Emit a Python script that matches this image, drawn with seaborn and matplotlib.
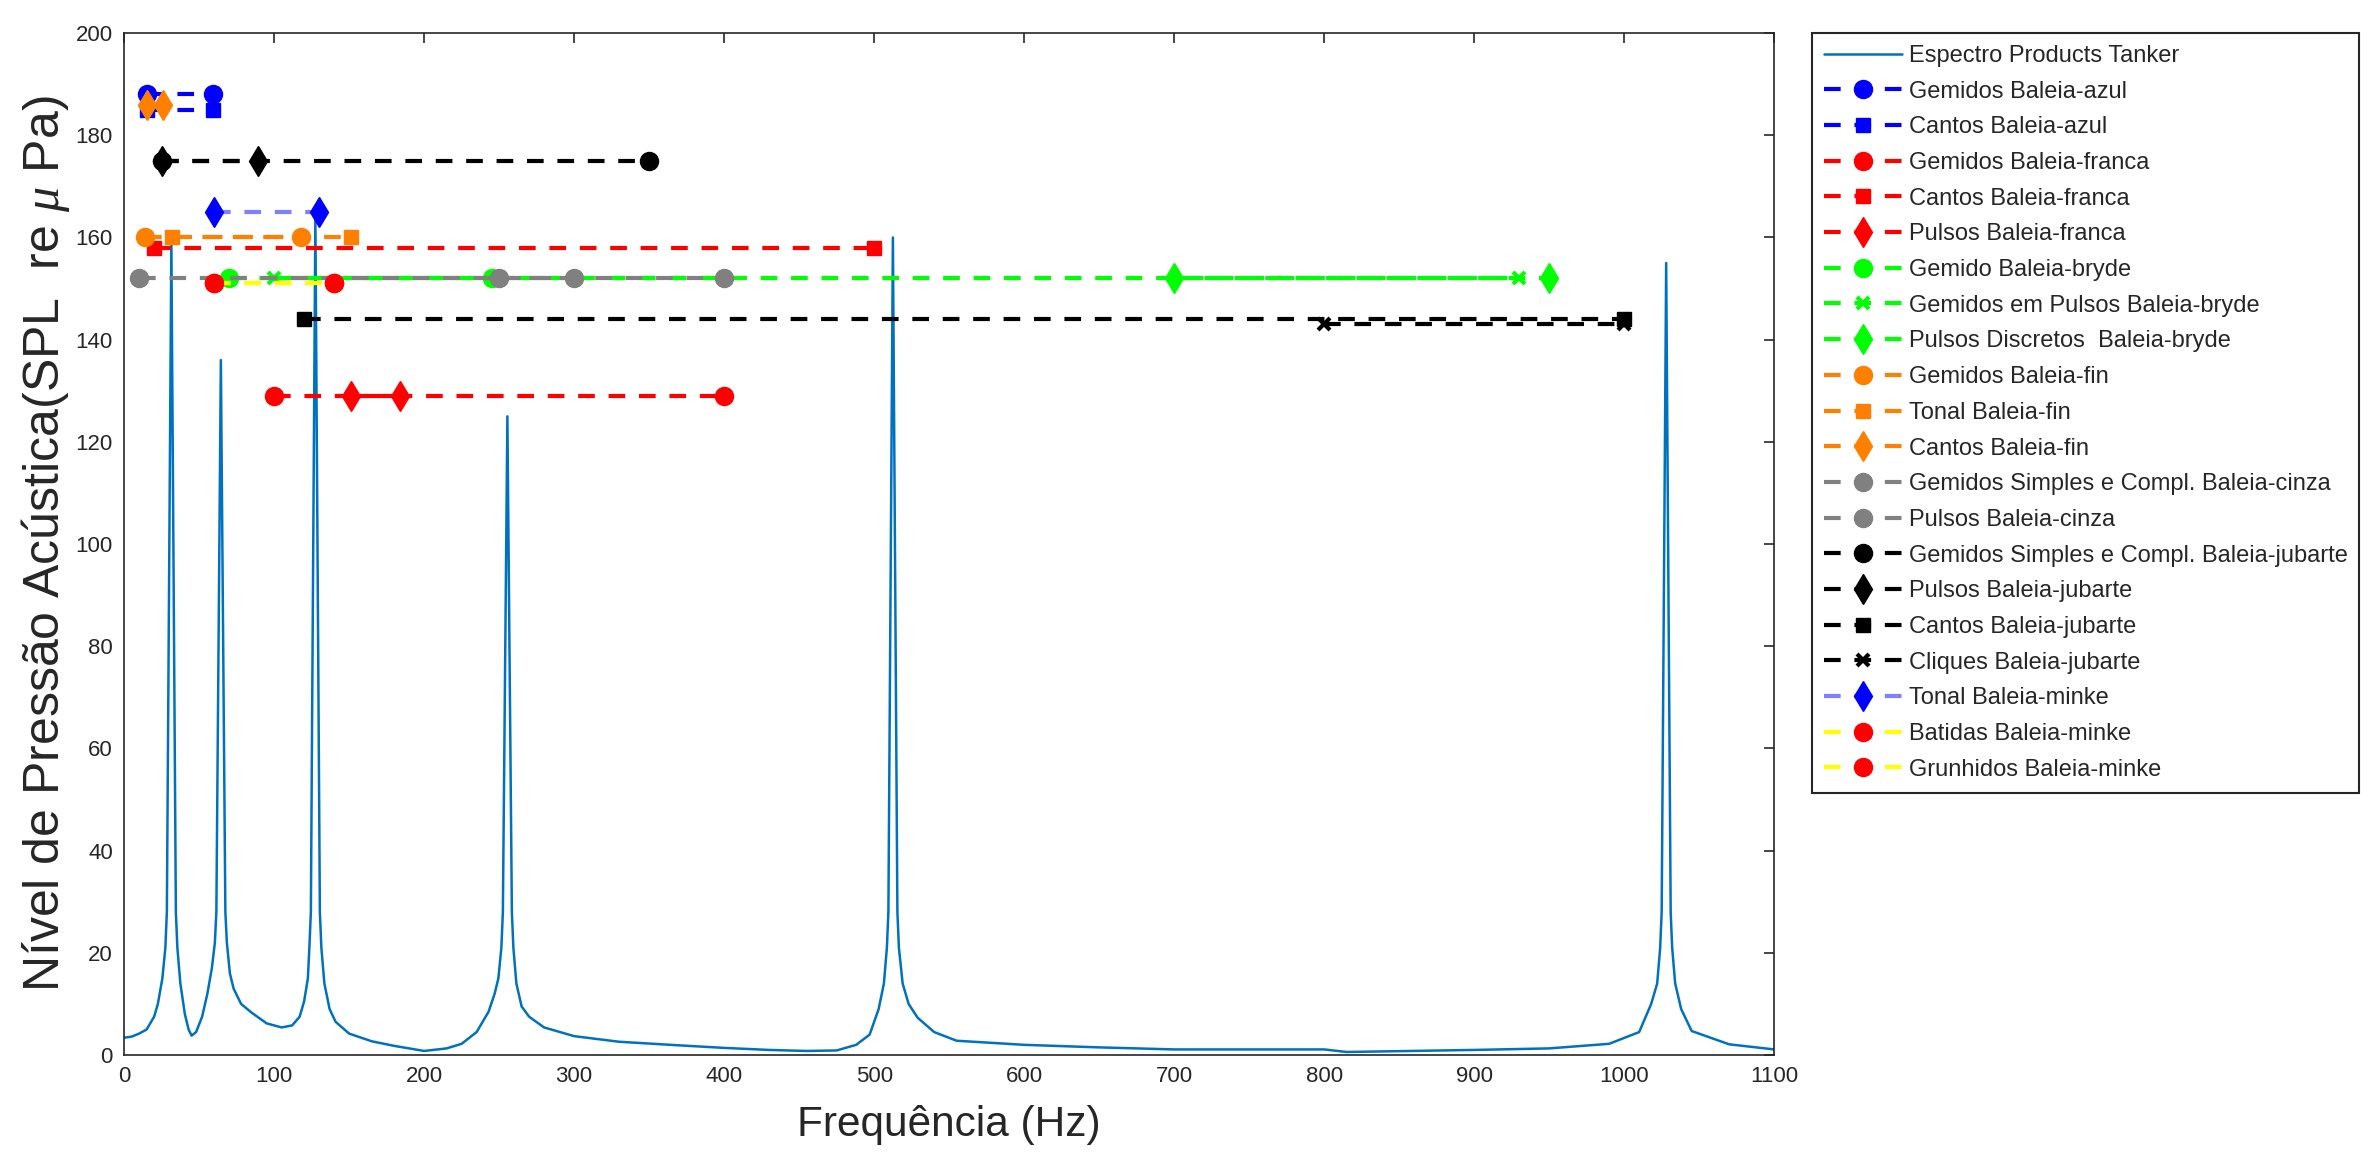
import numpy as np
import pandas as pd
import matplotlib
matplotlib.use("Agg")
import matplotlib.pyplot as plt
import seaborn as sns

# ---------------- data ----------------
spec_freq = [0, 5, 10, 15, 20, 22.5, 25.5, 27.5, 28.5, 31.5, 34.5, 35.5, 37.5, 40.5, 43, 45,
             48, 52, 55.5, 58.5, 60.5, 61.5, 64.5, 67.5, 68.5, 70.5, 73, 78, 85, 95, 105,
             112, 117, 120, 122.5, 123.5, 124.5, 127.5, 130.5, 131.5, 133.5, 137, 141,
             150, 165, 180, 200, 215, 225, 235, 243, 247, 249.5, 251.5, 252.5, 255.5,
             258.5, 259.5, 261.5, 265, 270, 280, 300, 330, 370, 400, 430, 455, 475, 488, 497,
             503, 506.5, 508.5, 509.5, 512.5, 515.5, 516.5, 519, 523, 529, 540, 555, 600,
             650, 700, 800, 815, 900, 950, 990, 1010, 1018, 1022, 1024, 1025, 1028,
             1031, 1032, 1034, 1038, 1045, 1070, 1100]
spec_level = [3.4, 3.6, 4.2, 5.0, 7.5, 10, 15, 21, 28, 159, 28, 21, 14, 8, 5, 3.8,
              4.5, 7.5, 12, 17, 22, 28, 136, 28, 22, 16, 13, 10, 8.3, 6.2, 5.4,
              5.8, 7.5, 10.5, 15, 21, 28, 164, 28, 21, 14, 9, 6.5,
              4.2, 2.7, 1.8, 0.8, 1.3, 2.2, 4.5, 8.5, 12, 15, 21, 28, 125,
              28, 21, 14, 9.5, 7.5, 5.4, 3.7, 2.6, 1.9, 1.4, 1.0, 0.8, 0.9, 2.0, 4,
              9, 14, 21, 28, 160, 28, 21, 14, 10, 7.3, 4.5, 2.8, 2.0,
              1.5, 1.1, 1.1, 0.6, 1.0, 1.3, 2.2, 4.5, 10, 14, 21, 28, 155,
              28, 21, 14, 9, 4.7, 2.1, 1.1]

call_labels = ["Gemidos Baleia-azul", "Cantos Baleia-azul", "Gemidos Baleia-franca",
               "Cantos Baleia-franca", "Pulsos Baleia-franca", "Gemido Baleia-bryde",
               "Gemidos em Pulsos Baleia-bryde", "Pulsos Discretos  Baleia-bryde",
               "Gemidos Baleia-fin", "Tonal Baleia-fin", "Cantos Baleia-fin",
               "Gemidos Simples e Compl. Baleia-cinza", "Pulsos Baleia-cinza",
               "Gemidos Simples e Compl. Baleia-jubarte", "Pulsos Baleia-jubarte",
               "Cantos Baleia-jubarte", "Cliques Baleia-jubarte", "Tonal Baleia-minke",
               "Batidas Baleia-minke", "Grunhidos Baleia-minke"]
call_fmin = [15, 15, 100, 20, 151, 70, 100, 700, 14, 32, 15, 10, 250, 25, 25, 120, 800, 60, 60, 60]
call_fmax = [59, 59, 400, 500, 184, 245, 930, 950, 118, 151, 26, 400, 300, 350, 89, 1000, 1000, 130, 140, 140]
call_spl = [188, 185, 129, 158, 129, 152, 152, 152, 160, 160, 186, 152, 152, 175, 175, 144, 143, 165, 151, 151]

# ---------------- styles ----------------
BLUE, RED, GREEN, ORANGE, GREY, BLACK = "#0000FF", "#FF0000", "#00FF00", "#FF8000", "#808080", "#000000"
line_colors = [BLUE, BLUE, RED, RED, RED, GREEN, GREEN, GREEN, ORANGE, ORANGE, ORANGE, GREY, GREY,
               BLACK, BLACK, BLACK, BLACK, "#8080FF", "#FFFF00", "#FFFF00"]
marker_colors = [BLUE, BLUE, RED, RED, RED, GREEN, GREEN, GREEN, ORANGE, ORANGE, ORANGE, GREY, GREY,
                 BLACK, BLACK, BLACK, BLACK, BLUE, RED, RED]
markers = ["o", "s", "o", "s", "d", "o", "x", "d", "o", "s", "d", "o", "o", "o", "d", "s", "x", "d", "o", "o"]
msizes = {"o": 13, "s": 10, "d": 15, "x": 9}

sns.set_theme(style="white")
plt.rcParams["font.family"] = ["Liberation Sans", "DejaVu Sans"]
plt.rcParams["mathtext.fontset"] = "custom"
plt.rcParams["mathtext.it"] = "Liberation Serif:italic"

fig = plt.figure(figsize=(23.64, 11.64), dpi=100)
ax = fig.add_axes([0.0525, 0.0936, 0.698, 0.878])

sns.lineplot(x=spec_freq, y=spec_level, ax=ax, color="#0072BD", lw=1.8,
             estimator=None, sort=False, label="Espectro Products Tanker")

for i, lab in enumerate(call_labels):
    df = pd.DataFrame({"f": [call_fmin[i], call_fmax[i]], "spl": [call_spl[i], call_spl[i]]})
    m = markers[i]
    sns.lineplot(data=df, x="f", y="spl", ax=ax, estimator=None, color=line_colors[i],
                 lw=3.0, linestyle=(0, (4, 3.3)), marker=m, markersize=msizes[m],
                 markerfacecolor=marker_colors[i], markeredgecolor=marker_colors[i],
                 markeredgewidth=3 if m == "x" else 1, label=lab)

ax.set_xlim(0, 1100)
ax.set_ylim(0, 200)
ax.set_xticks(np.arange(0, 1101, 100))
ax.set_yticks(np.arange(0, 201, 20))
ax.tick_params(direction="in", top=True, right=True, length=7, width=1.2,
               labelsize=16, colors="#262626", pad=8)
for s in ax.spines.values():
    s.set_color("#262626")
    s.set_linewidth(1.2)
ax.set_xlabel("Frequência (Hz)", fontsize=30.5, color="#262626", labelpad=13)
ax.set_ylabel(r"Nível de Pressão Acústica(SPL  re $\mu$ Pa)", fontsize=36, color="#262626", labelpad=3)

handles, labels = ax.get_legend_handles_labels()
leg = ax.legend(handles, labels, loc="upper left", bbox_to_anchor=(0.7665, 0.9716),
                bbox_transform=fig.transFigure, borderaxespad=0, fontsize=17,
                frameon=True, fancybox=False, edgecolor="#262626", framealpha=1,
                handlelength=3.3, labelspacing=0.58, borderpad=0.5, handletextpad=0.3)
leg.get_frame().set_linewidth(1.5)

fig.savefig("out.png", dpi=100)
